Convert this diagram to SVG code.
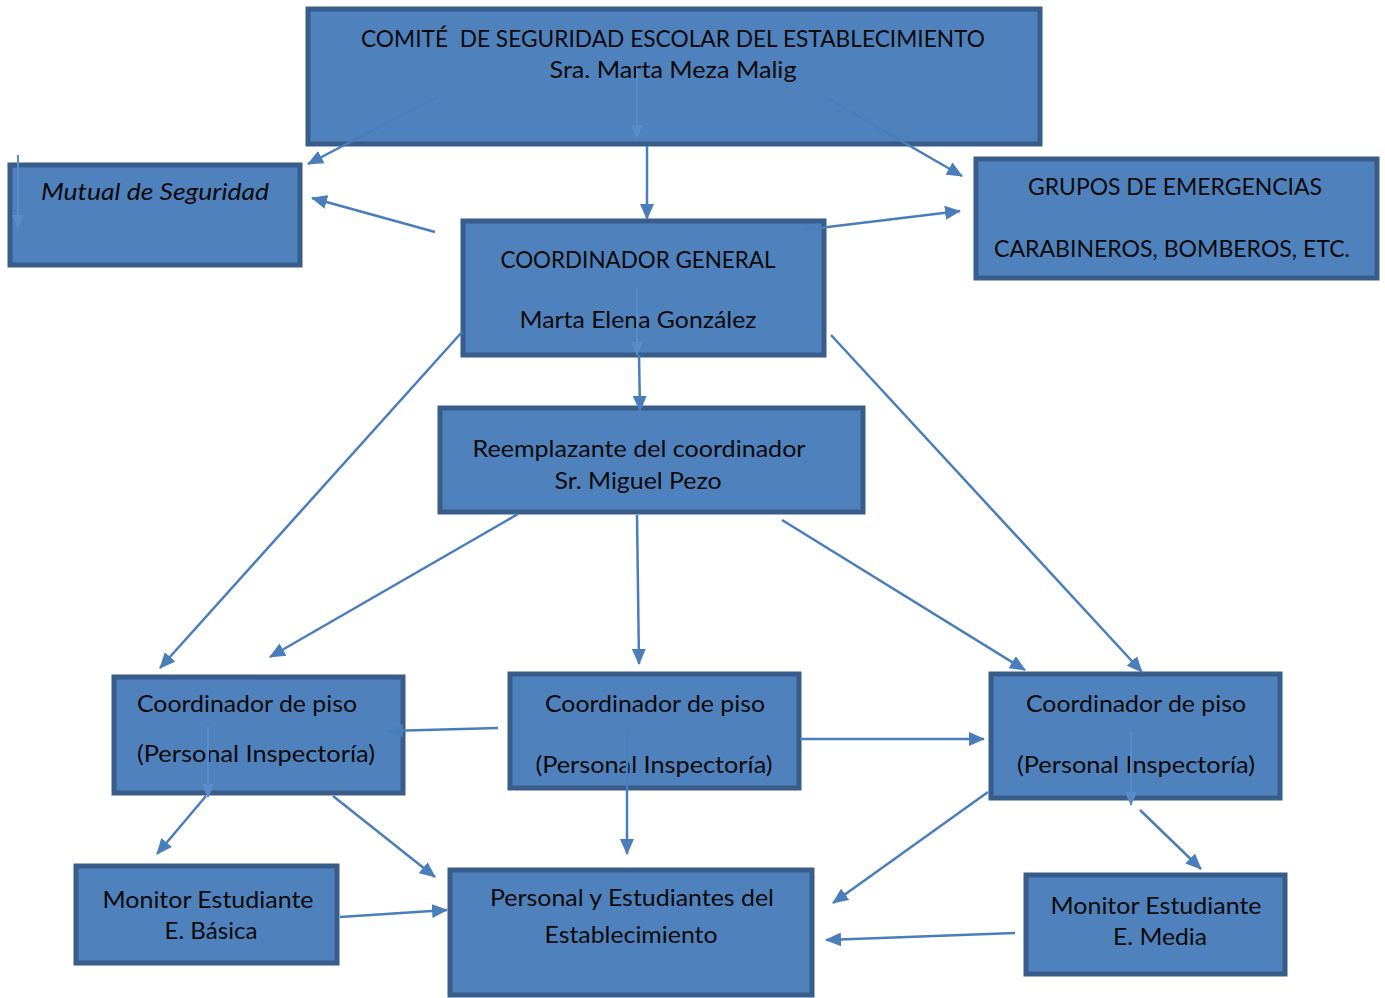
<svg xmlns="http://www.w3.org/2000/svg" width="1385" height="998" viewBox="0 0 1385 998">
<style>
.box{fill:#4F81BD;stroke:#385D8A;stroke-width:5}
.t{font-family:Lato,"Open Sans","Liberation Sans",sans-serif;font-size:23px;fill:#0a0a0a;text-anchor:middle}
.it{font-style:italic}
.c{fill:none;stroke:#4A7EBB;stroke-width:2.5;marker-end:url(#ah)}
.f{fill:none;stroke:#5A8CC8;stroke-width:2;marker-end:url(#ah2)}
</style>
<defs>
<marker id="ah" markerUnits="userSpaceOnUse" markerWidth="16" markerHeight="14" refX="15" refY="7" orient="auto"><path d="M0,0 L16,7 L0,14 Z" fill="#4A7EBB"/></marker>
<marker id="ah2" markerUnits="userSpaceOnUse" markerWidth="14" markerHeight="12" refX="13" refY="6" orient="auto"><path d="M0,0 L14,6 L0,12 Z" fill="#5A8CC8"/></marker>
</defs>
<rect width="1385" height="998" fill="#fff"/>
<g id="comite"><rect class="box" x="308" y="9" width="732" height="135"/>
<text class="t" x="673" y="47" textLength="624" lengthAdjust="spacingAndGlyphs">COMITÉ&#160; DE SEGURIDAD ESCOLAR DEL ESTABLECIMIENTO</text>
<text class="t" x="673" y="78" textLength="247" lengthAdjust="spacingAndGlyphs">Sra. Marta Meza Malig</text></g>
<g id="mutual"><rect class="box" x="10" y="165" width="290" height="100"/>
<text class="t it" x="155" y="200" textLength="228" lengthAdjust="spacingAndGlyphs">Mutual de Seguridad</text></g>
<g id="grupos"><rect class="box" x="976" y="159" width="401" height="119"/>
<text class="t" x="1175" y="195" textLength="294" lengthAdjust="spacingAndGlyphs">GRUPOS DE EMERGENCIAS</text>
<text class="t" x="1172" y="257" textLength="356" lengthAdjust="spacingAndGlyphs">CARABINEROS, BOMBEROS, ETC.</text></g>
<g id="coordgeneral"><rect class="box" x="463" y="221" width="361" height="134"/>
<text class="t" x="638" y="268" textLength="275" lengthAdjust="spacingAndGlyphs">COORDINADOR GENERAL</text>
<text class="t" x="638" y="328" textLength="237" lengthAdjust="spacingAndGlyphs">Marta Elena González</text></g>
<g id="reemplazante"><rect class="box" x="440" y="408" width="423" height="104"/>
<text class="t" x="639" y="457" textLength="333" lengthAdjust="spacingAndGlyphs">Reemplazante del coordinador</text>
<text class="t" x="638" y="489" textLength="167" lengthAdjust="spacingAndGlyphs">Sr. Miguel Pezo</text></g>
<g id="cp-left"><rect class="box" x="114" y="677" width="289" height="116"/>
<text class="t" x="247" y="712" textLength="220" lengthAdjust="spacingAndGlyphs">Coordinador de piso</text>
<text class="t" x="256" y="762" textLength="238" lengthAdjust="spacingAndGlyphs">(Personal Inspectoría)</text></g>
<g id="cp-center"><rect class="box" x="510" y="674" width="289" height="114"/>
<text class="t" x="655" y="712" textLength="220" lengthAdjust="spacingAndGlyphs">Coordinador de piso</text>
<text class="t" x="654" y="773" textLength="237" lengthAdjust="spacingAndGlyphs">(Personal Inspectoría)</text></g>
<g id="cp-right"><rect class="box" x="991" y="674" width="289" height="124"/>
<text class="t" x="1136" y="712" textLength="220" lengthAdjust="spacingAndGlyphs">Coordinador de piso</text>
<text class="t" x="1136" y="773" textLength="238" lengthAdjust="spacingAndGlyphs">(Personal Inspectoría)</text></g>
<g id="monitor-basica"><rect class="box" x="76" y="866" width="261" height="97"/>
<text class="t" x="208" y="908" textLength="211" lengthAdjust="spacingAndGlyphs">Monitor Estudiante</text>
<text class="t" x="211" y="939" textLength="93" lengthAdjust="spacingAndGlyphs">E. Básica</text></g>
<g id="personal"><rect class="box" x="450" y="870" width="362" height="125"/>
<text class="t" x="632" y="906" textLength="284" lengthAdjust="spacingAndGlyphs">Personal y Estudiantes del</text>
<text class="t" x="631" y="943" textLength="173" lengthAdjust="spacingAndGlyphs">Establecimiento</text></g>
<g id="monitor-media"><rect class="box" x="1026" y="875" width="259" height="99"/>
<text class="t" x="1156" y="914" textLength="211" lengthAdjust="spacingAndGlyphs">Monitor Estudiante</text>
<text class="t" x="1160" y="945" textLength="94" lengthAdjust="spacingAndGlyphs">E. Media</text></g>
<g id="connectors">
<line class="f" x1="637" y1="68" x2="637" y2="138"/>
<line class="f" x1="18" y1="155" x2="18" y2="228"/>
<line class="f" x1="637" y1="288" x2="637" y2="355"/>
<line class="f" x1="208" y1="725" x2="208" y2="797"/>
<line class="f" x1="1131" y1="732" x2="1131" y2="805"/>
<line class="c" x1="437" y1="97" x2="308" y2="164"/>
<line class="c" x1="647" y1="146" x2="647" y2="219"/>
<line class="c" x1="825" y1="97" x2="962" y2="176"/>
<line class="c" x1="435" y1="232" x2="312" y2="198"/>
<line class="c" x1="803" y1="230" x2="960" y2="211"/>
<line class="c" x1="639" y1="355" x2="640" y2="411"/>
<line class="c" x1="462" y1="332" x2="160" y2="668"/>
<line class="c" x1="831" y1="335" x2="1142" y2="672"/>
<line class="c" x1="518" y1="514" x2="270" y2="657"/>
<line class="c" x1="637" y1="515" x2="639" y2="664"/>
<line class="c" x1="782" y1="520" x2="1025" y2="670"/>
<line class="c" x1="498" y1="728" x2="388" y2="731"/>
<line class="c" x1="800" y1="739" x2="984" y2="739"/>
<line class="c" x1="206" y1="796" x2="157" y2="854"/>
<line class="c" x1="333" y1="796" x2="435" y2="877"/>
<line class="c" x1="340" y1="917" x2="447" y2="910"/>
<line class="c" x1="627" y1="730" x2="627" y2="854"/>
<line class="c" x1="988" y1="792" x2="833" y2="903"/>
<line class="c" x1="1140" y1="810" x2="1201" y2="869"/>
<line class="c" x1="1015" y1="933" x2="826" y2="940"/>
</g>
</svg>
